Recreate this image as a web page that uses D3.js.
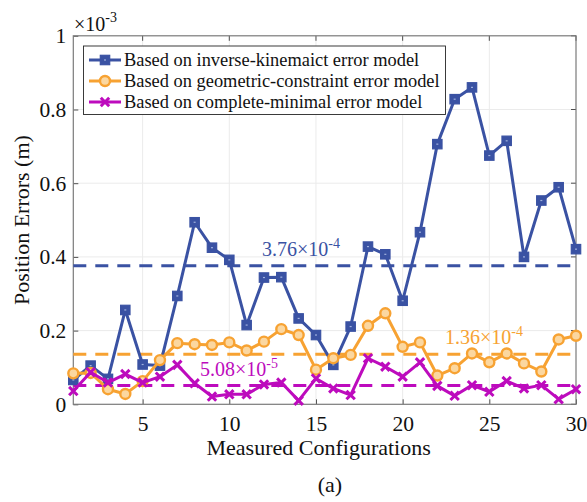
<!DOCTYPE html>
<html>
<head>
<meta charset="utf-8">
<script src="https://cdn.jsdelivr.net/npm/d3@7"></script>
<style>
  html, body { margin: 0; padding: 0; background: #fff; }
  svg text { font-family: "Liberation Serif", "Times New Roman", serif; }
</style>
</head>
<body>
<svg id="chart" width="587" height="502"></svg>
<script>
// Position errors (×10^-3 m) at each measured configuration
const configs = d3.range(1, 31);
const inverseKinematic = [0.066, 0.105, 0.069, 0.256, 0.108, 0.105, 0.294, 0.494, 0.425, 0.392,
                          0.215, 0.344, 0.345, 0.233, 0.188, 0.107, 0.211, 0.428, 0.407, 0.281,
                          0.467, 0.706, 0.828, 0.860, 0.675, 0.715, 0.400, 0.553, 0.589, 0.421];
const geometricConstraint = [0.084, 0.085, 0.041, 0.028, 0.063, 0.120, 0.166, 0.163, 0.161, 0.168,
                             0.146, 0.170, 0.204, 0.188, 0.094, 0.125, 0.134, 0.213, 0.247, 0.156,
                             0.168, 0.078, 0.098, 0.138, 0.114, 0.138, 0.111, 0.089, 0.176, 0.186];
const completeMinimal = [0.036, 0.087, 0.059, 0.082, 0.059, 0.075, 0.107, 0.057, 0.021, 0.027,
                         0.027, 0.054, 0.059, 0.010, 0.070, 0.043, 0.025, 0.125, 0.102, 0.075,
                         0.114, 0.050, 0.023, 0.052, 0.034, 0.063, 0.043, 0.052, 0.014, 0.041];
// Mean error of each model (×10^-3 m)
const meanValues = [0.376, 0.136, 0.0508];
const meanMantissa = ["3.76", "1.36", "5.08"];
const meanExponent = ["-4", "-4", "-5"];
const seriesNames = ["Based on inverse-kinemaict error model",
                     "Based on geometric-constraint error model",
                     "Based on complete-minimal error model"];
const xTicks = [5, 10, 15, 20, 25, 30];
const yTicks = [0, 0.2, 0.4, 0.6, 0.8, 1];

const colors = ["#3a52a3", "#f7a232", "#bd0bbd"];
const markers = ["square", "circle", "cross"];

const svg = d3.select("#chart");
const m = { left: 73.3, right: 576, top: 35.8, bottom: 404.3 };

const x = d3.scaleLinear().domain([1, 30]).range([m.left, m.right]);
const y = d3.scaleLinear().domain([0, 1]).range([m.bottom, m.top]);

const axisColor = "#262626";
const tickFont = 21.5;

// grid
const grid = svg.append("g");
grid.selectAll("line.gx").data(xTicks.filter(t => t > 1 && t < 30)).enter().append("line")
  .attr("x1", d => x(d)).attr("x2", d => x(d)).attr("y1", m.top).attr("y2", m.bottom)
  .attr("stroke", "#ebebeb").attr("stroke-width", 1);
grid.selectAll("line.gy").data(yTicks.filter(t => t > 0 && t < 1)).enter().append("line")
  .attr("x1", m.left).attr("x2", m.right).attr("y1", d => y(d)).attr("y2", d => y(d))
  .attr("stroke", "#ebebeb").attr("stroke-width", 1);

// axes (ticks pointing inward)
const xAxis = svg.append("g").attr("transform", `translate(0,${m.bottom})`)
  .call(d3.axisBottom(x).tickValues(xTicks).tickSize(-5).tickPadding(11).tickFormat(d3.format("d")));
const yAxis = svg.append("g").attr("transform", `translate(${m.left},0)`)
  .call(d3.axisLeft(y).tickValues(yTicks).tickSize(-5).tickPadding(7)
    .tickFormat(d => d === 0 || d === 1 ? d3.format("d")(d) : d3.format(".1f")(d)));
[xAxis, yAxis].forEach(a => {
  a.attr("font-family", null);
  a.select(".domain").remove();
  a.selectAll(".tick line").attr("stroke", axisColor).attr("stroke-width", 0.8);
  a.selectAll(".tick text").attr("fill", "#111").attr("font-size", tickFont);
});
// right / top ticks for the boxed axes
svg.append("g").selectAll("line").data(yTicks).enter().append("line")
  .attr("x1", m.right).attr("x2", m.right - 5).attr("y1", d => y(d)).attr("y2", d => y(d))
  .attr("stroke", axisColor).attr("stroke-width", 0.8);
svg.append("g").selectAll("line").data(xTicks).enter().append("line")
  .attr("x1", d => x(d)).attr("x2", d => x(d)).attr("y1", m.top).attr("y2", m.top + 5)
  .attr("stroke", axisColor).attr("stroke-width", 0.8);

// box
svg.append("rect").attr("x", m.left).attr("y", m.top)
  .attr("width", m.right - m.left).attr("height", m.bottom - m.top)
  .attr("fill", "none").attr("stroke", "#7a7a7a").attr("stroke-width", 1.2);

// mean lines
const meanG = svg.append("g");
meanValues.forEach((v, i) => {
  meanG.append("line")
    .attr("x1", m.left).attr("x2", m.right).attr("y1", y(v)).attr("y2", y(v))
    .attr("stroke", colors[i]).attr("stroke-width", 3).attr("stroke-dasharray", "13,9");
});

// series
const seriesData = [inverseKinematic, geometricConstraint, completeMinimal];
const line = d3.line().x((d, i) => x(configs[i])).y(d => y(d));

function drawMarker(g, type, color, cx, cy) {
  if (type === "square") {
    g.append("rect").attr("x", cx - 4.7).attr("y", cy - 4.7).attr("width", 9.4).attr("height", 9.4)
      .attr("fill", color).attr("stroke", color).attr("stroke-width", 1.2);
    g.append("rect").attr("x", cx - 1).attr("y", cy - 0.6).attr("width", 2).attr("height", 1.2)
      .attr("fill", "#9fb0dd");
  } else if (type === "circle") {
    g.append("circle").attr("cx", cx).attr("cy", cy).attr("r", 5)
      .attr("fill", "#fbd7a0").attr("stroke", color).attr("stroke-width", 2.4);
  } else {
    const s = 4.2;
    g.append("path")
      .attr("d", `M${cx - s},${cy - s}L${cx + s},${cy + s}M${cx - s},${cy + s}L${cx + s},${cy - s}`)
      .attr("stroke", color).attr("stroke-width", 3).attr("fill", "none");
  }
}

seriesData.forEach((data, i) => {
  const g = svg.append("g");
  g.append("path").datum(data).attr("d", line)
    .attr("fill", "none").attr("stroke", colors[i]).attr("stroke-width", 3)
    .attr("stroke-linejoin", "round");
  data.forEach((d, j) => drawMarker(g, markers[i], colors[i], x(configs[j]), y(d)));
});

// mean value annotations
const annX = [262, 445, 200];
meanValues.forEach((v, i) => {
  const t = svg.append("text").attr("x", annX[i]).attr("y", y(v) - 10)
    .attr("fill", colors[i]).attr("font-size", 20);
  t.append("tspan").text(meanMantissa[i] + "×10");
  t.append("tspan").attr("font-size", 14).attr("dy", -8).text(meanExponent[i]);
});

// legend
const lg = svg.append("g");
lg.append("rect").attr("x", 83.5).attr("y", 46).attr("width", 362).attr("height", 68.5)
  .attr("fill", "#fff").attr("stroke", axisColor).attr("stroke-width", 0.9);
const rowY = [60, 81, 102];
seriesNames.forEach((name, i) => {
  lg.append("line").attr("x1", 89).attr("x2", 121).attr("y1", rowY[i]).attr("y2", rowY[i])
    .attr("stroke", colors[i]).attr("stroke-width", 3);
  drawMarker(lg, markers[i], colors[i], 105, rowY[i]);
  lg.append("text").attr("x", 124).attr("y", rowY[i] + 6).attr("font-size", 18.4)
    .attr("fill", "#111").text(name);
});

// exponent label
const ex = svg.append("text").attr("x", 74).attr("y", 31).attr("font-size", 20).attr("fill", "#111");
ex.append("tspan").text("×10");
ex.append("tspan").attr("font-size", 14).attr("dy", -9).text("-3");

// axis titles
svg.append("text").attr("x", (m.left + m.right) / 2 - 6).attr("y", 455)
  .attr("text-anchor", "middle").attr("font-size", 22).attr("fill", "#111")
  .text("Measured Configurations");
svg.append("text").attr("transform", `translate(29,${(m.top + m.bottom) / 2}) rotate(-90)`)
  .attr("text-anchor", "middle").attr("font-size", 22).attr("fill", "#111")
  .text("Position Errors (m)");
svg.append("text").attr("x", 330).attr("y", 492)
  .attr("text-anchor", "middle").attr("font-size", 22).attr("fill", "#111")
  .text("(a)");
</script>
</body>
</html>
